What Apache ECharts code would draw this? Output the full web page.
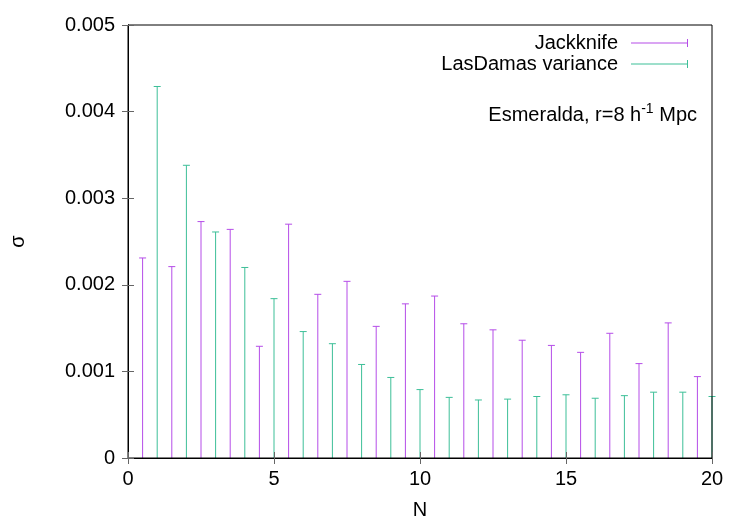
<!DOCTYPE html>
<html>
<head>
<meta charset="utf-8">
<script src="https://cdn.jsdelivr.net/npm/echarts@6/dist/echarts.min.js"></script>
<style>html,body{margin:0;padding:0;background:#fff}#c{width:750px;height:525px}</style>
</head>
<body>
<div id="c"></div>
<script>
// Data
var jackN = [0.5,1.5,2.5,3.5,4.5,5.5,6.5,7.5,8.5,9.5,10.5,11.5,12.5,13.5,14.5,15.5,16.5,17.5,18.5,19.5];
var jackSigma = [0.00231,0.00221,0.00273,0.00264,0.00129,0.00270,0.00189,0.00204,0.00152,0.00178,0.00187,0.00155,0.00148,0.00136,0.00130,0.00122,0.00144,0.00109,0.00156,0.00094];
var lasN = [1,2,3,4,5,6,7,8,9,10,11,12,13,14,15,16,17,18,19,20];
var lasSigma = [0.00429,0.00338,0.00261,0.00220,0.00184,0.00146,0.00132,0.00108,0.00093,0.00079,0.00070,0.00067,0.00068,0.00071,0.00073,0.00069,0.00072,0.00076,0.00076,0.00071];
var xTicks = [0,5,10,15,20];
var yTicks = [0,0.001,0.002,0.003,0.004,0.005];

var FONT = '"Liberation Sans", Arial, sans-serif';
var purple = '#b54de8';
var teal = '#3dbf98';

function zip(a,b){return a.map(function(v,i){return [v,b[i]];});}

function makeRender(color){
  return function(params, api){
    var x = api.value(0), v = api.value(1);
    var top = api.coord([x, v]);
    var bot = api.coord([x, 0]);
    var hw = 3.5;
    return {type:'group', children:[
      {type:'line', shape:{x1:top[0], y1:bot[1], x2:top[0], y2:top[1]}, style:{stroke:color, lineWidth:1}},
      {type:'line', shape:{x1:top[0]-hw, y1:top[1], x2:top[0]+hw, y2:top[1]}, style:{stroke:color, lineWidth:1}}
    ]};
  };
}

var iconPath = 'path://M0,3.5H57V4.5H0Z M56,0H57V8H56Z';
var chart = echarts.init(document.getElementById('c'), null, {renderer:'canvas'});
var axisCommon = {
  z:6,
  axisLine:{show:true, lineStyle:{color:'#000', width:1}},
  axisTick:{show:true, inside:true, length:6, lineStyle:{color:'#666'}},
  splitLine:{show:false}
};
chart.setOption({
  animation:false,
  backgroundColor:'#fff',
  textStyle:{fontFamily:FONT},
  grid:{left:127, top:25, right:38, bottom:67, show:true, borderColor:'#000', borderWidth:1, z:6},
  xAxis:[
    Object.assign({type:'value', min:xTicks[0], max:xTicks[xTicks.length-1], interval:5, position:'bottom',
      name:'N', nameLocation:'middle', nameGap:42,
      nameTextStyle:{fontSize:20, color:'#000', fontFamily:FONT},
      axisLabel:{fontSize:20, color:'#000', margin:11, fontFamily:FONT}}, axisCommon),
    Object.assign({type:'value', min:xTicks[0], max:xTicks[xTicks.length-1], interval:5, position:'top',
      axisLabel:{show:false}}, axisCommon)
  ],
  yAxis:[
    Object.assign({type:'value', min:yTicks[0], max:yTicks[yTicks.length-1], interval:0.001, position:'left',
      name:'σ', nameLocation:'middle', nameGap:100, nameRotate:90,
      nameTextStyle:{fontSize:20, color:'#000', fontFamily:FONT},
      axisLabel:{fontSize:20, color:'#000', margin:13, fontFamily:FONT}}, axisCommon),
    Object.assign({type:'value', min:yTicks[0], max:yTicks[yTicks.length-1], interval:0.001, position:'right',
      axisLabel:{show:false}}, axisCommon)
  ],
  legend:[
    {data:[{name:'Jackknife', icon:iconPath}], right:62, top:33, align:'right', orient:'vertical',
     itemWidth:57, itemHeight:8, padding:0,
     textStyle:{fontSize:20, color:'#000', fontFamily:FONT, padding:[0,8,0,0]}},
    {data:[{name:'LasDamas variance', icon:iconPath}], right:62, top:54, align:'right', orient:'vertical',
     itemWidth:57, itemHeight:8, padding:0,
     textStyle:{fontSize:20, color:'#000', fontFamily:FONT, padding:[0,8,0,0]}}
  ],
  graphic:[
    {type:'text', right:53, top:102, style:{
      text:'{a|Esmeralda, r=8 h}{s|-1}{a| Mpc}',
      rich:{
        a:{fontSize:20, fill:'#000', fontFamily:FONT},
        s:{fontSize:14, fill:'#000', fontFamily:FONT, padding:[0,0,12,0]}
      }
    }}
  ],
  series:[
    {name:'Jackknife', type:'custom', clip:false, itemStyle:{color:purple},
     renderItem:makeRender(purple), data:zip(jackN, jackSigma), z:2},
    {name:'LasDamas variance', type:'custom', clip:false, itemStyle:{color:teal},
     renderItem:makeRender(teal), data:zip(lasN, lasSigma), z:2}
  ]
});
</script>
</body>
</html>
